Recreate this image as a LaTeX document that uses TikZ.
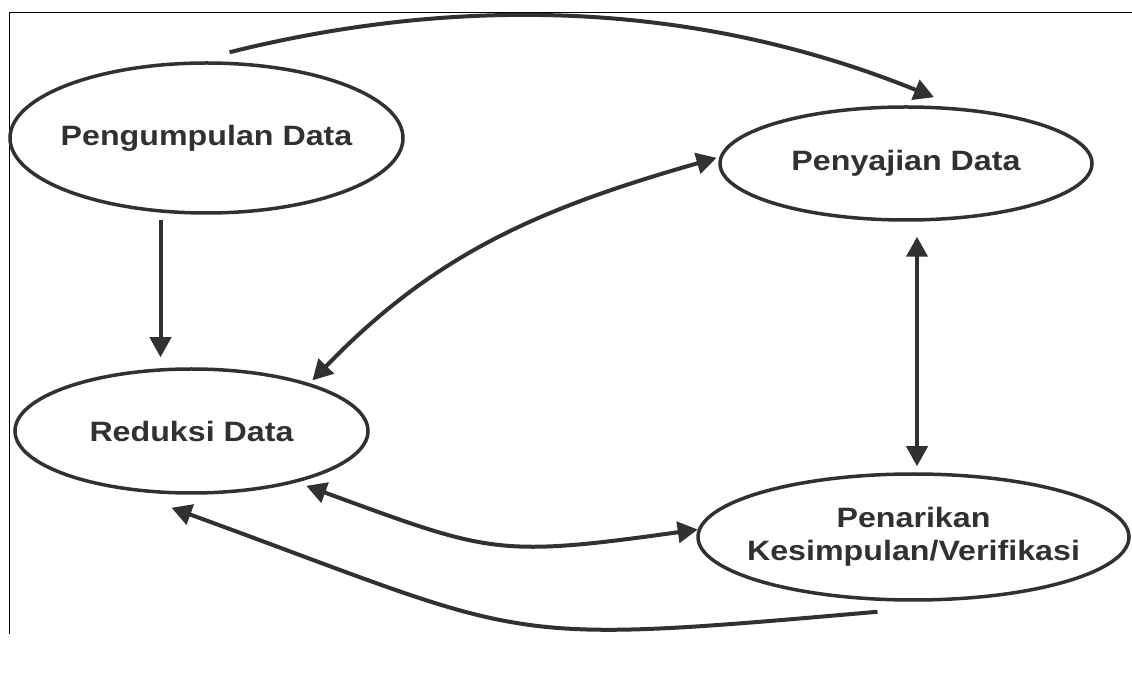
\documentclass[tikz,border=0pt]{standalone}
\usepackage{fontspec}
\setmainfont[FakeStretch=1.15]{Liberation Sans}
\usetikzlibrary{arrows.meta, positioning, shapes.geometric}
\definecolor{garis}{RGB}{51,49,47}

\begin{document}
\begin{tikzpicture}[x=1pt,y=1pt,>={Triangle[length=20pt,width=21pt]},
  every node/.style={ellipse,draw=garis,line width=3.5pt,text=garis,inner xsep=-20pt,inner ysep=0pt,align=center,font=\fontsize{28}{33}\selectfont\bfseries},
  panah/.style={draw=garis,line width=4pt}]
  \useasboundingbox (0,0) rectangle (1132,699);
  \draw[line width=1pt] (9,65) |- (1132,686);
%
  \node(pgd)[minimum width=393pt,minimum height=150pt] at (206.5,561) {Pengumpulan Data};
  \node(sjd)[minimum width=372pt,minimum height=113pt] at (906,535.5) {Penyajian Data};
  \node(rdk)[minimum width=353pt,minimum height=124pt] at (191.5,268) {Reduksi Data};
  \node(pnk)[minimum width=431pt,minimum height=126pt] at (913.5,162) {Penarikan\\Kesimpulan/Verifikasi};
%
\draw[panah,->]([xshift=23pt,yshift=9pt]pgd.north) to[out=14,in=158,looseness=0.9] ([xshift=28pt,yshift=8pt]sjd.north);
\draw[panah,->,shorten <=5pt,shorten >=10pt]([xshift=-46pt]pgd.south)--([xshift=-46pt]pgd.south |- rdk.north);
\draw[panah,<->,shorten <=4pt,shorten >=3pt](rdk.22) to[out=46,in=196] (sjd.178);
\draw[panah,<->,shorten <=6pt,shorten >=15pt]([xshift=3.5pt]pnk.north)--([xshift=3.5pt]pnk.north |- sjd.south);
\draw[panah,<->,shorten <=10pt](rdk.-26) to[out=340,in=188,looseness=1.3] (pnk.178);
\draw[panah,->]([xshift=-36pt,yshift=-10pt]pnk.south) to[out=185,in=340,looseness=1.4] ([xshift=-20pt,yshift=-13pt]rdk.south);
\end{tikzpicture}
\end{document}
